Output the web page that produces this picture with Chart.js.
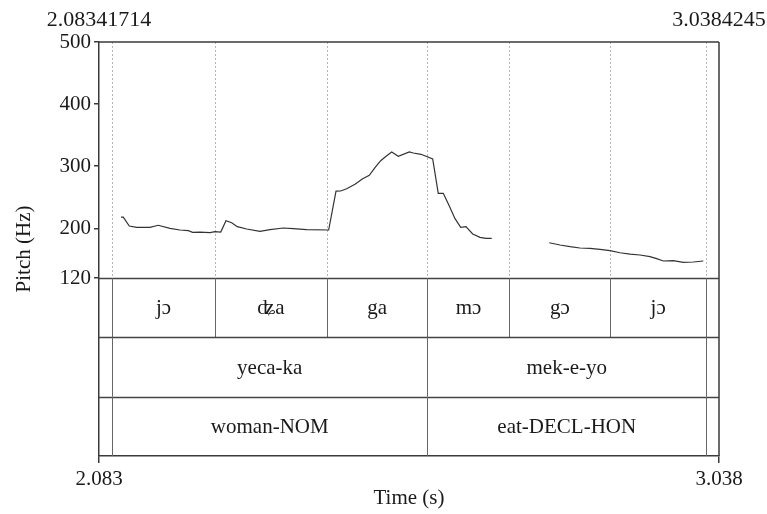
<!DOCTYPE html>
<html>
<head>
<meta charset="utf-8">
<script src="https://cdn.jsdelivr.net/npm/chart.js@4/dist/chart.umd.min.js"></script>
<style>
  html, body { margin: 0; padding: 0; background: #fff; }
  #wrap { width: 767px; height: 514px; }
</style>
</head>
<body>
<div id="wrap"><canvas id="c" width="767" height="514"></canvas></div>
<script>
// ---- data ----
const timeStart = 2.08341714;
const timeEnd = 3.0384245;
const timeTickLabels = ["2.083", "3.038"];
const pitchTicks = [120, 200, 300, 400, 500];

const pitchTimes = [
  2.1173, 2.1208, 2.1301, 2.1415, 2.1620, 2.1747, 2.1928, 2.2082, 2.2210, 2.2277,
  2.2390, 2.2544, 2.2621, 2.2709, 2.2790, 2.2878, 2.2964, 2.3109, 2.3314, 2.3468,
  2.3673, 2.3827, 2.4033, 2.4372, 2.4485, 2.4557, 2.4649, 2.4777, 2.4896, 2.4998,
  2.5085, 2.5173, 2.5266, 2.5343, 2.5444, 2.5614, 2.5675, 2.5794, 2.5974, 2.6060,
  2.6137, 2.6230, 2.6318, 2.6406, 2.6487, 2.6590, 2.6703, 2.6795, 2.6883,
  2.7300,
  2.7770, 2.7935, 2.8089, 2.8243, 2.8397, 2.8551, 2.8705, 2.8859, 2.9013, 2.9167,
  2.9321, 2.9424, 2.9526, 2.9680, 2.9834, 2.9988, 3.0142
];
const pitchHz = [
  218, 218, 203.7, 201.6, 201.6, 204.9, 200, 197.3, 196.2, 193.6,
  194, 193, 194.6, 194, 212.3, 209, 202.6, 198.9, 195.2, 197.8,
  200.5, 199.4, 197.8, 197.3, 260, 260.1, 263.8, 270.9, 279.9, 285.4,
  297.6, 308.9, 316.9, 322.9, 316, 322.9, 321.3, 319.2, 311.6, 256.4,
  256.4, 235.9, 215.5, 201.6, 202.6, 190.9, 185.5, 183.9, 183.9,
  null,
  176.8, 173.1, 170.4, 168.3, 167.8, 166.2, 164, 160.7, 158.6, 157,
  154.3, 151.1, 147.4, 147.9, 145.3, 145.8, 147.4
];

const syllableBounds = [2.1034, 2.2621, 2.4341, 2.5894, 2.7157, 2.8710, 3.0184];
const syllableLabels = ["jɔ", "ʥa", "ga", "mɔ", "gɔ", "jɔ"];
const wordBounds = [2.1034, 2.5894, 3.0184];
const wordLabels = ["yeca-ka", "mek-e-yo"];
const glossBounds = [2.1034, 2.5894, 3.0184];
const glossLabels = ["woman-NOM", "eat-DECL-HON"];

// ---- style / layout ----
const FONT = "'Liberation Serif', 'DejaVu Serif', serif";
const FONT_SIZE = 21;
const AXIS_COLOR = '#3a3a3a';
const TEXT_COLOR = '#1a1a1a';
const Y_MIN = -166.6;

const points = pitchTimes.map((t, i) => ({ x: t, y: pitchHz[i] }));

function seg(ctx, x1, y1, x2, y2) {
  ctx.beginPath(); ctx.moveTo(x1, y1); ctx.lineTo(x2, y2); ctx.stroke();
}

const tierPlugin = {
  id: 'tiers',
  beforeDatasetsDraw(chart) {
    const { ctx, chartArea: a, scales: { x, y } } = chart;
    const yFloor = y.getPixelForValue(pitchTicks[0]);
    ctx.save();
    ctx.strokeStyle = '#b5b5b5';
    ctx.lineWidth = 1;
    ctx.setLineDash([2, 2]);
    syllableBounds.forEach(t => {
      const px = Math.round(x.getPixelForValue(t)) + 0.5;
      seg(ctx, px, a.top, px, yFloor);
    });
    ctx.restore();
  },
  afterDraw(chart) {
    const { ctx, chartArea: a, scales: { x, y } } = chart;
    const yFloor = Math.round(y.getPixelForValue(pitchTicks[0]));
    const rowH = (a.bottom - yFloor) / 3;
    const tiers = [
      [syllableBounds, syllableLabels],
      [wordBounds, wordLabels],
      [glossBounds, glossLabels]
    ];
    ctx.save();
    ctx.font = FONT_SIZE + 'px ' + FONT;
    ctx.fillStyle = TEXT_COLOR;
    ctx.textAlign = 'center';
    ctx.textBaseline = 'middle';
    tiers.forEach(([bounds, labels], r) => {
      const top = yFloor + r * rowH;
      const bot = top + rowH;
      const yt = Math.round(top) + 0.5;
      ctx.lineWidth = 1.3;
      ctx.strokeStyle = '#444';
      seg(ctx, a.left, yt, a.right, yt);
      ctx.lineWidth = 1;
      ctx.strokeStyle = '#666';
      bounds.forEach(t => {
        const px = Math.round(x.getPixelForValue(t)) + 0.5;
        seg(ctx, px, top, px, bot);
      });
      labels.forEach((lab, i) => {
        const cx = (x.getPixelForValue(bounds[i]) + x.getPixelForValue(bounds[i + 1])) / 2;
        ctx.fillText(lab, cx, (top + bot) / 2 + 1);
      });
    });
    // frame
    ctx.strokeStyle = AXIS_COLOR;
    ctx.lineWidth = 1.5;
    seg(ctx, a.left, a.top, a.right, a.top);
    seg(ctx, a.right, a.top, a.right, a.bottom);
    // top time labels
    ctx.font = '22px ' + FONT;
    ctx.fillStyle = TEXT_COLOR;
    ctx.textBaseline = 'middle';
    ctx.fillText(String(timeStart), x.getPixelForValue(timeStart), 20);
    ctx.fillText(String(timeEnd), x.getPixelForValue(timeEnd), 20);
    ctx.restore();
  }
};

new Chart(document.getElementById('c'), {
  type: 'line',
  data: {
    datasets: [{
      data: points,
      borderColor: '#333',
      borderWidth: 1.2,
      pointRadius: 0,
      tension: 0,
      spanGaps: false,
      fill: false
    }]
  },
  options: {
    responsive: false,
    animation: false,
    devicePixelRatio: 1,
    layout: { padding: { top: 42, right: 48, left: 0, bottom: 0 } },
    plugins: { legend: { display: false }, tooltip: { enabled: false } },
    scales: {
      x: {
        type: 'linear',
        min: timeStart,
        max: timeEnd,
        afterFit(s) { s.height = 58; },
        afterBuildTicks(s) { s.ticks = [{ value: timeStart }, { value: timeEnd }]; },
        ticks: {
          autoSkip: false,
          maxRotation: 0,
          padding: 4,
          color: TEXT_COLOR,
          font: { family: FONT, size: FONT_SIZE },
          callback: (v, i) => timeTickLabels[i]
        },
        grid: { drawOnChartArea: false, tickLength: 7, color: AXIS_COLOR, lineWidth: 1.5 },
        border: { display: true, color: AXIS_COLOR, width: 1.5 },
        title: {
          display: true,
          text: 'Time (s)',
          color: TEXT_COLOR,
          font: { family: FONT, size: FONT_SIZE },
          padding: { top: 0, bottom: 3 }
        }
      },
      y: {
        type: 'linear',
        min: Y_MIN,
        max: 500,
        afterFit(s) { s.width = 99; },
        afterBuildTicks(s) { s.ticks = pitchTicks.map(v => ({ value: v })); },
        ticks: {
          autoSkip: false,
          padding: 3,
          color: TEXT_COLOR,
          font: { family: FONT, size: FONT_SIZE }
        },
        grid: { drawOnChartArea: false, tickLength: 5, color: AXIS_COLOR, lineWidth: 1.5 },
        border: { display: true, color: AXIS_COLOR, width: 1.5 },
        title: {
          display: true,
          text: 'Pitch (Hz)',
          color: TEXT_COLOR,
          font: { family: FONT, size: FONT_SIZE },
          padding: { top: 12, bottom: 0 }
        }
      }
    }
  },
  plugins: [tierPlugin]
});
</script>
</body>
</html>
